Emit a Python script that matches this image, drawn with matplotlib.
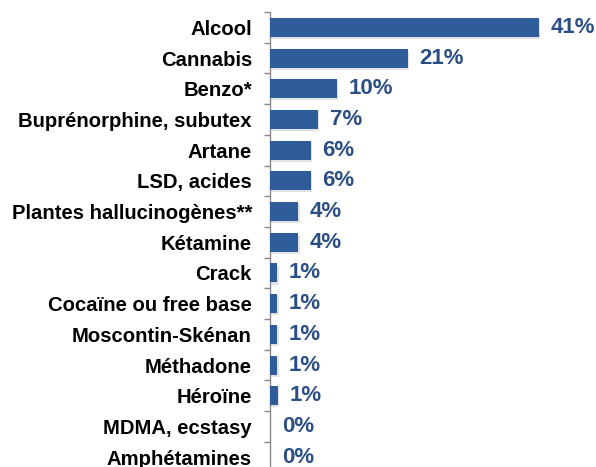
import matplotlib.pyplot as plt
import matplotlib.patheffects as pe
import numpy as np

plt.rcParams['font.family'] = ['Liberation Sans', 'DejaVu Sans']

labels = ["Alcool", "Cannabis", "Benzo*", "Buprénorphine, subutex", "Artane",
          "LSD, acides", "Plantes hallucinogènes**", "Kétamine", "Crack",
          "Cocaïne ou free base", "Moscontin-Skénan", "Méthadone", "Héroïne",
          "MDMA, ecstasy", "Amphétamines"]
values = [41.0, 21.0, 10.2, 7.3, 6.2, 6.2, 4.3, 4.3, 1.1, 1.1, 1.1, 1.1, 1.2, 0.0, 0.0]
value_labels = ["41%", "21%", "10%", "7%", "6%", "6%", "4%", "4%", "1%", "1%",
                "1%", "1%", "1%", "0%", "0%"]

bar_color = "#2E5D99"
text_color = "#2B4F85"

W, H = 596, 467
fig = plt.figure(figsize=(W / 100, H / 100), dpi=100)
# axis line at x=270 px, top of first row at y=12 px, row height ~30.7 px
row_h = 30.7
top = 12
n = len(labels)
ax = fig.add_axes([270 / W, (H - top - n * row_h) / H, 325 / W, n * row_h / H])

y = np.arange(n)
bars = ax.barh(y, values, height=0.62, color=bar_color, zorder=3)
for b in bars:
    b.set_path_effects([pe.SimplePatchShadow(offset=(1, -1.5), shadow_rgbFace="#C8C8C8", alpha=0.5),
                        pe.Normal()])

ax.set_xlim(0, 325 / 6.56)
ax.set_ylim(n - 0.5, -0.5)

for yi, v, t in zip(y, values, value_labels):
    ax.text(v + 1.8, yi, t, va="center", ha="left", fontsize=16,
            fontweight="bold", color=text_color)

ax.set_yticks(y)
ax.set_yticklabels(labels, fontsize=14.6, fontweight="bold", color="black")
ax.tick_params(axis="y", length=0, pad=13)
ax.set_yticks(np.arange(n + 1) - 0.5, minor=True)
ax.tick_params(axis="y", which="minor", length=4, color="#888888", width=1)
ax.set_xticks([])

for s in ["top", "right", "bottom"]:
    ax.spines[s].set_visible(False)
ax.spines["left"].set_color("#888888")
ax.spines["left"].set_linewidth(1)

fig.savefig("out.png", dpi=100)
